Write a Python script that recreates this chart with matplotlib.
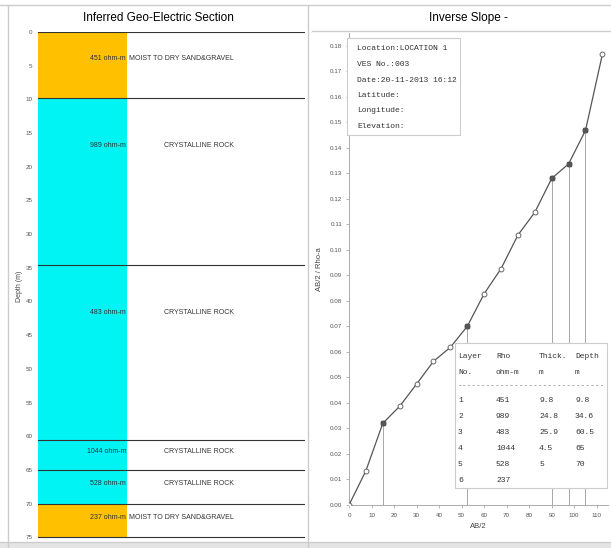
import numpy as np
import matplotlib.pyplot as plt
from matplotlib.lines import Line2D
from matplotlib.patches import Rectangle

plt.rcParams['font.family'] = ['Liberation Sans Narrow', 'Liberation Sans', 'DejaVu Sans']

#===================
# Layer model
#===================
layer_no   = [1, 2, 3, 4, 5, 6]
rho        = [451, 989, 483, 1044, 528, 237]
thick      = [9.8, 24.8, 25.9, 4.5, 5.0]
depth      = [9.8, 34.6, 60.5, 65.0, 70.0]
lithology  = ['MOIST TO DRY SAND&GRAVEL', 'CRYSTALLINE ROCK', 'CRYSTALLINE ROCK',
              'CRYSTALLINE ROCK', 'CRYSTALLINE ROCK', 'MOIST TO DRY SAND&GRAVEL']
max_depth  = 75

#===================
# Inverse slope curve
#===================
ab2   = [0, 7.5, 15, 22.5, 30, 37.5, 45, 52.5, 60, 67.5, 75, 82.5, 90, 97.5, 105, 112.5]
ratio = [0.000, 0.0134, 0.0320, 0.0387, 0.0474, 0.0563, 0.0618, 0.0700,
         0.0828, 0.0926, 0.1058, 0.1147, 0.1280, 0.1337, 0.1468, 0.1766]
break_idx = [2, 7, 12, 13, 14]

info = ['Location:LOCATION 1', 'VES No.:003', 'Date:20-11-2013 16:12',
        'Latitude:', 'Longitude:', 'Elevation:']

W, H = 611, 548
fig = plt.figure(figsize=(W/100., H/100.), dpi=100)

def fx(px): return px/float(W)
def fy(py): return 1 - py/float(H)

#===================
# Left panel
#===================
ax = fig.add_axes([fx(38), fy(540), fx(305)-fx(38), fy(32)-fy(540)])
tops = [0] + depth
bots = depth + [max_depth]
for i in range(len(rho)):
    col = '#FFC000' if 'SAND' in lithology[i] else '#00F4F4'
    ax.add_patch(Rectangle((0, tops[i]), 1, bots[i]-tops[i], color=col, lw=0))
    yl = tops[i] + min(0.4*(bots[i]-tops[i]), 7)
    ax.text(0.99, yl, '%d ohm-m' % rho[i], ha='right', va='center', fontsize=5, color='#333333')
    ax.text(2.2, yl, lithology[i], ha='right', va='center', fontsize=5, color='#333333')
for d in tops + [max_depth]:
    ax.plot([0, 3], [d, d], color='#333333', lw=0.8)
ax.set_xlim(0, 3)
ax.set_ylim(max_depth+0.4, 0)
ax.set_yticks(np.arange(0, 80, 5))
ax.set_xticks([])
ax.tick_params(axis='y', length=0, labelsize=4.5, labelcolor='#555555', pad=4)
for s in ax.spines.values(): s.set_visible(False)
ax.set_ylabel('Depth (m)', fontsize=5, color='#444444', labelpad=2)
fig.text(fx(158), fy(18), 'Inferred Geo-Electric Section', ha='center', va='center', fontsize=8.5)

#===================
# Right panel
#===================
ax = fig.add_axes([fx(349), fy(505), fx(608)-fx(349), fy(33)-fy(505)])
ax.plot(ab2, ratio, color='#555555', lw=0.9, marker='o', ms=3.5, mfc='white', mec='#666666', mew=0.7, zorder=3)
for i in break_idx:
    ax.plot([ab2[i], ab2[i]], [0, ratio[i]], color='#999999', lw=0.6, zorder=1)
    ax.plot(ab2[i], ratio[i], marker='s', ms=3.5, color='#555555', zorder=4)
ax.set_xlim(0, 115)
ax.set_ylim(0, 0.185)
ax.set_xticks(np.arange(0, 120, 10))
ax.set_yticks(np.arange(0, 0.19, 0.01))
ax.set_yticklabels(['%.2f' % v for v in np.arange(0, 0.19, 0.01)])
ax.tick_params(length=2, width=0.5, color='#999999', labelsize=4.5, labelcolor='#555555', pad=3)
ax.tick_params(axis='x', pad=4)
for s in ['top', 'right']: ax.spines[s].set_visible(False)
for s in ['left', 'bottom']:
    ax.spines[s].set_color('#aaaaaa'); ax.spines[s].set_linewidth(0.7)
ax.set_xlabel('AB/2', fontsize=5.5, color='#444444', labelpad=3)
ax.set_ylabel('AB/2 / Rho-a', fontsize=5.5, color='#444444', labelpad=5)
fig.text(fx(468), fy(18), 'Inverse Slope -', ha='center', va='center', fontsize=8.5)

# info box
fig.patches.append(Rectangle((fx(347), fy(135)), fx(460)-fx(347), fy(38)-fy(135),
                             transform=fig.transFigure, fc='white', ec='#cccccc', lw=0.8, zorder=5))
for j, t in enumerate(info):
    fig.text(fx(357), fy(49 + 15.5*j), t, family='Liberation Mono', fontsize=5.8,
             va='center', color='#333333', zorder=6)

# table box
fig.patches.append(Rectangle((fx(455), fy(488)), fx(607)-fx(455), fy(343)-fy(488),
                             transform=fig.transFigure, fc='white', ec='#cccccc', lw=0.8, zorder=5))
colx = [458, 496, 539, 575]
head = [['Layer', 'Rho', 'Thick.', 'Depth'], ['No.', 'ohm-m', 'm', 'm']]
for j, row in enumerate(head):
    for k, t in enumerate(row):
        fig.text(fx(colx[k]), fy(357 + 15*j), t, family='Liberation Mono', fontsize=5.8,
                 va='center', color='#333333', zorder=6)
fig.text(fx(458), fy(386), '-'*31, family='Liberation Mono', fontsize=5.8,
         va='center', color='#777777', zorder=6)
for j in range(len(rho)):
    row = [str(layer_no[j]), str(rho[j])]
    if j < len(thick):
        row += ['%g' % thick[j], '%g' % depth[j]]
    for k, t in enumerate(row):
        fig.text(fx(colx[k]), fy(400 + 16*j), t, family='Liberation Mono', fontsize=5.8,
                 va='center', color='#333333', zorder=6)

# window frame lines
frame = [((0, 611), (5, 5)), ((8, 8), (5, 548)), ((308, 308), (5, 548)),
         ((312, 611), (31, 31)), ((0, 611), (542, 542))]
for (xs, ys) in frame:
    fig.add_artist(Line2D([fx(x) for x in xs], [fy(y) for y in ys], color='#cccccc', lw=1))
fig.patches.append(Rectangle((0, 0), 1, fy(542), transform=fig.transFigure,
                             fc='#e4e4e4', ec='none', zorder=0))

plt.savefig('out.png', dpi=100)
